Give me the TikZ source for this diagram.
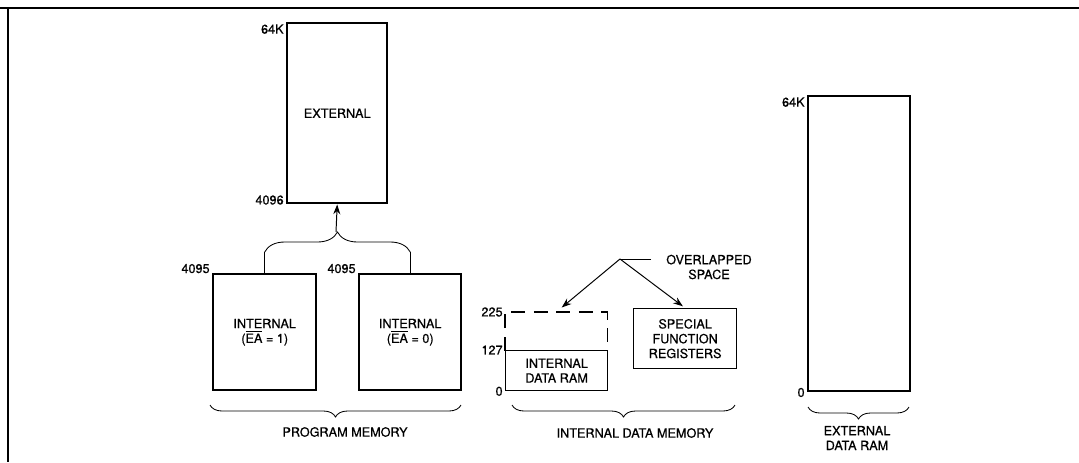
\documentclass[tikz,border=0pt]{standalone}
\usepackage{fontspec}
\setmainfont{TeX Gyre Heros}[FakeBold=0.6]
\newfontfamily\lblfont{TeX Gyre Heros}[FakeBold=0.6]
\usetikzlibrary{arrows.meta,decorations.pathreplacing}

\begin{document}
\begin{tikzpicture}[x=0.025cm,y=-0.025cm,
    font=\lblfont\fontsize{9}{10.5}\selectfont,
    heavy/.style={draw,line width=1.7pt,inner sep=0pt,anchor=north west},
    light/.style={draw,line width=0.9pt,inner sep=0pt,anchor=north west,align=center},
    num/.style={inner sep=1.5pt},
    curly/.style={decorate,line width=0.6pt,decoration={brace,amplitude=#1}},
    arr/.style={-{Stealth[length=7pt,width=5pt]},line width=0.7pt}]
  \useasboundingbox (0,0) rectangle (1079,462);
  \draw[line width=0.8pt] (0,8) -- (1079,8) (8,8) -- (8,462);

  % program memory
  \node[heavy,minimum width=2.5cm,minimum height=4.5cm] (ext) at (286,22) {EXTERNAL};
  \node[heavy,minimum width=2.575cm,minimum height=2.9cm,align=center] (int1) at (212,273)
    {INTERNAL\\($\overline{\hbox{EA}}$ = 1)};
  \node[heavy,minimum width=2.55cm,minimum height=2.9cm,align=center] (int2) at (358,273)
    {INTERNAL\\($\overline{\hbox{EA}}$ = 0)};
  \node[num,anchor=north east] at (ext.north west) {64K};
  \node[num,anchor=base east] at (ext.south west) {4096};
  \node[num,anchor=base east] at (int1.north west) {4095};
  \node[num,anchor=base east] at (int2.north west) {4095};
  \begin{scope}[line width=0.6pt]
    \draw (int1.north) -- ++(0,-21) coordinate (bl);
    \draw (int2.north) -- ++(0,-21) coordinate (br);
  \end{scope}
  \draw[curly=0.5cm] (bl) -- (br);
  \coordinate (pmtip) at (336,232);
  \draw[arr] (pmtip) -- (ext.south);

  % internal data memory
  \node[light,minimum width=2.55cm,minimum height=1.0cm] (dram) at (505,350) {INTERNAL\\DATA RAM};
  \node[inner sep=0pt,anchor=north west,minimum width=2.55cm,minimum height=0.95cm] (dhi) at (505,312) {};
  \draw[line width=1.1pt,dash pattern=on 10pt off 6pt] (dhi.south west) |- (dhi.north east) -- (dhi.south east);
  \node[light,minimum width=2.575cm,minimum height=1.5cm] (sfr) at (633,308) {SPECIAL\\FUNCTION\\REGISTERS};
  \node[num,anchor=east] at (dhi.north west) {225};
  \node[num,anchor=east] at (dram.north west) {127};
  \node[num,anchor=east] at (dram.south west) {0};
  \coordinate (ovl) at (620,259);
  \node[align=center,anchor=west,inner sep=0pt] (ovltxt) at (666,267) {OVERLAPPED\\SPACE};
  \draw[line width=0.7pt] (651,259) -- (ovl);
  \draw[arr,shorten >=5pt] (ovl) -- (dhi.north);
  \draw[arr,shorten >=2pt] (ovl) -- (sfr.north);

  % external data memory
  \node[heavy,minimum width=2.55cm,minimum height=7.375cm] (xram) at (807,95) {};
  \node[num,anchor=north east] at (xram.north west) {64K};
  \node[num,anchor=east] at (xram.south west) {0};

  % braces
  \draw[curly=0.3cm] (461,405) -- (210,405);
  \draw[curly=0.3cm] (735,405) -- (512,405);
  \draw[curly=0.3cm] (909,407) -- (808,407);
  \node (pmlbl) at (345,432) {PROGRAM MEMORY};
  \node (idlbl) at (635,433) {INTERNAL DATA MEMORY};
  \node[align=center] (xlbl) at (857,438) {EXTERNAL\\DATA RAM};
\end{tikzpicture}
\end{document}
